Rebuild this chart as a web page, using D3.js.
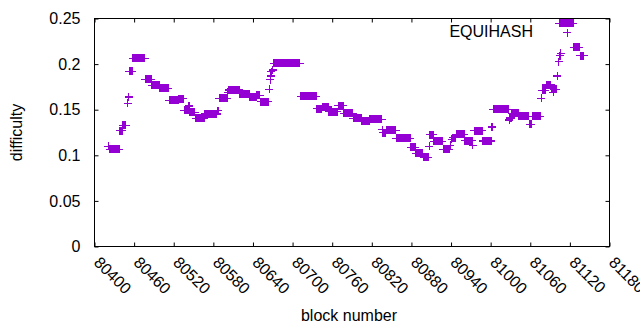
<!DOCTYPE html>
<html>
<head>
<meta charset="utf-8">
<script src="https://cdnjs.cloudflare.com/ajax/libs/d3/7.8.5/d3.min.js"></script>
<style>
  body { margin: 0; background: #fff; }
  svg text { font-family: "Liberation Sans", Arial, sans-serif; font-size: 16px; fill: #000; }
</style>
</head>
<body>
<div id="chart"></div>
<script>
// runs of equal difficulty: first block, number of blocks, value
var runStart = [80421, 80423, 80438, 80443, 80450, 80452, 80453, 80458, 80477, 80487,
                80499, 80513, 80528, 80536, 80543, 80544, 80553, 80567, 80586, 80589,
                80602, 80603, 80620, 80635, 80646, 80652, 80665, 80666, 80667, 80668,
                80670, 80672, 80712, 80737, 80745, 80755, 80769, 80778, 80792, 80805,
                80817, 80836, 80837, 80842, 80857, 80879, 80887, 80899, 80907, 80908,
                80914, 80928, 80939, 80941, 80943, 80948, 80961, 80973, 80975, 80988,
                81002, 81004, 81028, 81029, 81032, 81043, 81059, 81063, 81077, 81078,
                81084, 81092, 81095, 81096, 81101, 81103, 81105, 81106, 81104, 81126,
                81136];
var runCount = [1, 15, 5, 5, 1, 1, 5, 19, 10, 12,
                14, 15, 7, 7, 1, 9, 14, 19, 2, 13,
                1, 17, 15, 11, 5, 12, 1, 1, 1, 1,
                1, 40, 25, 8, 10, 14, 9, 14, 13, 12,
                19, 1, 5, 15, 22, 8, 11, 7, 1, 6,
                14, 10, 1, 1, 5, 13, 12, 1, 13, 14,
                1, 24, 1, 3, 11, 15, 3, 13, 1, 6,
                8, 3, 1, 4, 1, 1, 1, 1, 22, 9,
                6];
var runValue = [0.110, 0.1065, 0.127, 0.133, 0.157, 0.164, 0.192, 0.2065, 0.1835, 0.1767,
                0.1736, 0.1605, 0.162, 0.1495, 0.154, 0.147, 0.1407, 0.1453, 0.149, 0.1626,
                0.169, 0.1715, 0.1675, 0.1637, 0.1657, 0.1586, 0.1725, 0.183, 0.187, 0.1915,
                0.1935, 0.201, 0.1648, 0.151, 0.153, 0.148, 0.1545, 0.146, 0.1407, 0.138,
                0.1396, 0.128, 0.125, 0.1273, 0.1185, 0.1087, 0.102, 0.098, 0.110, 0.1225,
                0.1155, 0.1067, 0.111, 0.1175, 0.1195, 0.123, 0.116, 0.1108, 0.127, 0.1157,
                0.131, 0.1505, 0.1388, 0.141, 0.146, 0.1428, 0.134, 0.1428, 0.1626, 0.1714,
                0.177, 0.1735, 0.169, 0.1725, 0.187, 0.2027, 0.209, 0.212, 0.2449, 0.2185,
                0.209];

var xTicks = [80400, 80460, 80520, 80580, 80640, 80700, 80760, 80820, 80880, 80940, 81000, 81060, 81120, 81180];
var yTicks = [0, 0.05, 0.1, 0.15, 0.2, 0.25];
var seriesName = "EQUIHASH";

var width = 640, height = 330;
var pLeft = 94.5, pRight = 609.5, pTop = 18.5, pBottom = 246.5;
var purple = "#9400d3";

var data = [];
runStart.forEach(function(s, i) {
  for (var k = 0; k < runCount[i]; k++) data.push({block: s + k, diff: runValue[i]});
});

var svg = d3.select("#chart").append("svg")
  .attr("width", width)
  .attr("height", height);

var x = d3.scaleLinear().domain([80400, 81180]).range([pLeft, pRight]);
var y = d3.scaleLinear().domain([0, 0.25]).range([pBottom, pTop]);

var yFmt = function(d) { return d3.format("~g")(d); };

// axes, ticks inward, mirrored
svg.append("g").attr("transform", "translate(" + pLeft + ",0)")
  .call(d3.axisLeft(y).tickValues(yTicks).tickSize(-4).tickPadding(14).tickFormat(yFmt))
  .call(function(g) { g.select(".domain").remove(); });
svg.append("g").attr("transform", "translate(" + pRight + ",0)")
  .call(d3.axisRight(y).tickValues(yTicks).tickSize(-4).tickFormat(""))
  .call(function(g) { g.select(".domain").remove(); });

var xAxis = svg.append("g").attr("transform", "translate(0," + pBottom + ")")
  .call(d3.axisBottom(x).tickValues(xTicks).tickSize(-4).tickFormat(d3.format("d")))
  .call(function(g) { g.select(".domain").remove(); });
xAxis.selectAll("text")
  .attr("text-anchor", "start")
  .attr("y", 0).attr("dy", "0.35em")
  .attr("transform", "translate(2,13) rotate(45)");

svg.append("g").attr("transform", "translate(0," + pTop + ")")
  .call(d3.axisTop(x).tickValues(xTicks).tickSize(-4).tickFormat(""))
  .call(function(g) { g.select(".domain").remove(); });

svg.selectAll(".tick line").attr("stroke", "#000");
svg.selectAll(".tick text").style("font-size", "16px").attr("fill", "#000");

svg.append("rect")
  .attr("x", pLeft).attr("y", pTop)
  .attr("width", pRight - pLeft).attr("height", pBottom - pTop)
  .attr("fill", "none").attr("stroke", "#000").attr("stroke-width", 1);

// points
var cross = "M-4,0H4M0,-4V4";
svg.append("g").selectAll("path")
  .data(data)
  .enter().append("path")
  .attr("d", cross)
  .attr("transform", function(d) { return "translate(" + x(d.block) + "," + y(d.diff) + ")"; })
  .attr("fill", "none")
  .attr("stroke", purple)
  .attr("stroke-width", 1.2)
  .attr("shape-rendering", "crispEdges");

// key
svg.append("text")
  .attr("x", 533).attr("y", 37)
  .attr("text-anchor", "end")
  .text(seriesName);
svg.append("path")
  .attr("d", cross)
  .attr("transform", "translate(567.3,32.5)")
  .attr("fill", "none").attr("stroke", purple).attr("stroke-width", 1.2)
  .attr("shape-rendering", "crispEdges");

// axis titles
svg.append("text")
  .attr("x", (pLeft + pRight) / 2 - 3).attr("y", 321)
  .attr("text-anchor", "middle")
  .text("block number");
svg.append("text")
  .attr("transform", "translate(22," + ((pTop + pBottom) / 2) + ") rotate(-90)")
  .attr("text-anchor", "middle")
  .text("difficulty");
</script>
</body>
</html>
